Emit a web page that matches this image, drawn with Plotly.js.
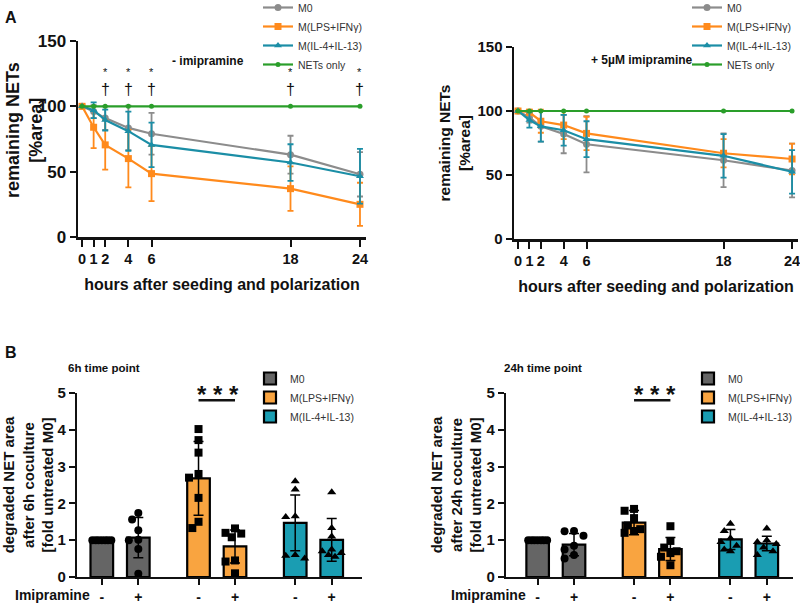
<!DOCTYPE html>
<html>
<head>
<meta charset="utf-8">
<script src="https://cdn.plot.ly/plotly-3.0.1.min.js"></script>
<style>html,body{margin:0;padding:0;background:#fff;}</style>
</head>
<body>
<div id="chart" style="width:800px;height:605px;"></div>
<script>
// ---------- Panel A data ----------
const hours = [0, 1, 2, 4, 6, 18, 24];
const seriesNames = ["M0", "M(LPS+IFNγ)", "M(IL-4+IL-13)", "NETs only"];

// - imipramine
const m0Minus     = [100, 96, 91, 83.5, 79, 63, 48];
const m0MinusSd   = [0, 5, 9, 17, 16, 14.5, 17];
const lpsMinus    = [100, 84, 70.5, 60, 48.5, 37, 25];
const lpsMinusSd  = [0, 16, 19, 22, 21, 17, 16.5];
const il4Minus    = [100, 97, 89.5, 81, 70.5, 57, 46.5];
const il4MinusSd  = [0, 6, 8, 15, 17, 14, 21];
const netsMinus   = [100, 100, 100, 100, 100, 100, 100];

// + 5 µM imipramine
const m0Plus      = [100, 95, 88, 82, 74, 61.5, 53.5];
const m0PlusSd    = [0, 4, 12, 15, 22, 21, 21];
const lpsPlus     = [100, 99, 92, 89, 82.5, 67, 62.5];
const lpsPlusSd   = [0, 2, 9, 11, 13, 11, 12];
const il4Plus     = [100, 93, 88, 85, 78, 65, 52.5];
const il4PlusSd   = [0, 6, 12, 12, 14, 17, 17];
const netsPlus    = [100, 100, 100, 100, 100, 100, 100];

const sigHours = [2, 4, 6, 18, 24];

// ---------- Panel B data ----------
const groupNames = ["M0", "M(LPS+IFNγ)", "M(IL-4+IL-13)"];
const imiLabels = ["-", "+", "-", "+", "-", "+"];

// 6h
const mean6h = [1.0, 1.07, 2.68, 0.83, 1.47, 1.01];
const sd6h   = [0, 0.55, 1.0, 0.45, 0.76, 0.58];
const pts6h = [
  [1, 1, 1, 1, 1, 1, 1],
  [1.74, 1.56, 1.27, 1.01, 1.0, 0.76, 0.09],
  [4.02, 3.72, 3.38, 2.80, 2.70, 2.15, 1.50, 1.33],
  [1.32, 1.2, 1.18, 1.08, 0.45, 0.42, 0.1],
  [2.6, 2.38, 1.65, 1.63, 0.6, 0.58, 0.5],
  [2.3, 1.33, 1.1, 0.75, 0.7, 0.65, 0.6, 0.55]
];
// 24h
const mean24h = [1.0, 0.88, 1.48, 0.76, 1.02, 0.91];
const sd24h   = [0, 0.3, 0.33, 0.31, 0.27, 0.2];
const pts24h = [
  [1, 1, 1, 1, 1, 1, 1],
  [1.25, 1.24, 1.12, 0.85, 0.75, 0.6, 0.5],
  [1.85, 1.8, 1.6, 1.4, 1.3, 1.25, 1.2],
  [1.38, 0.98, 0.8, 0.7, 0.65, 0.55, 0.32],
  [1.45, 1.25, 1.05, 0.95, 0.85, 0.75, 0.7],
  [1.32, 1.0, 0.95, 0.9, 0.8, 0.7, 0.6]
];

// ---------- styling ----------
const FONT = "Liberation Sans, Arial, Helvetica, sans-serif";
const lineColors = ["#8c8c8c", "#ff8a1c", "#1b8ea6", "#2a9e2a"];
const lineSymbols = ["circle", "square", "triangle-up", "circle"];
const barColors = ["#656565", "#f9a440", "#1a9db2"];
const ptSymbols = ["circle", "square", "triangle-up"];
const barPos = [0, 1, 2.65, 3.65, 5.3, 6.3];

const H = 605, W = 800;
const py = p => (H - p) / H;
const px = p => p / W;

const traces = [];

function lineTraces(xa, ya, legendId, vals, sds) {
  vals.forEach((v, k) => {
    const t = {
      x: hours, y: v, type: "scatter", mode: "lines+markers",
      name: seriesNames[k], xaxis: xa, yaxis: ya, legend: legendId,
      line: {color: lineColors[k], width: 2.2},
      marker: {color: lineColors[k], symbol: lineSymbols[k], size: k === 3 ? 5 : 7},
      cliponaxis: false
    };
    if (sds[k]) {
      t.error_y = {type: "data", array: sds[k], visible: true, color: lineColors[k], thickness: 1.8, width: 3};
    }
    traces.push(t);
  });
}
lineTraces("x", "y", "legend", [m0Minus, lpsMinus, il4Minus, netsMinus], [m0MinusSd, lpsMinusSd, il4MinusSd, null]);
lineTraces("x2", "y2", "legend2", [m0Plus, lpsPlus, il4Plus, netsPlus], [m0PlusSd, lpsPlusSd, il4PlusSd, null]);

// deterministic beeswarm-like horizontal spread (layout only)
function spread(vals, yScale) {
  const order = vals.map((v, i) => i).sort((a, b) => vals[b] - vals[a]);
  const cands = [0, -0.17, 0.17, -0.26, 0.26, -0.09, 0.09];
  const placed = [];
  const off = new Array(vals.length).fill(0);
  order.forEach(i => {
    let best = 0, bestD = -1;
    for (const c of cands) {
      let d = Infinity;
      placed.forEach(p => {
        const dx = (c - p.o) * 36.5, dy = (vals[i] - p.v) * yScale;
        d = Math.min(d, Math.hypot(dx, dy));
      });
      if (d >= 8) { best = c; bestD = d; break; }
      if (d > bestD) { bestD = d; best = c; }
    }
    off[i] = best;
    placed.push({o: best, v: vals[i]});
  });
  return off;
}

function barPanel(xa, ya, legendId, means, sds, pts) {
  for (let g = 0; g < 3; g++) {
    const idx = [2 * g, 2 * g + 1];
    traces.push({
      type: "bar", x: idx.map(i => barPos[i]), y: idx.map(i => means[i]),
      name: groupNames[g], xaxis: xa, yaxis: ya, legend: legendId,
      width: 0.62,
      marker: {color: barColors[g], line: {color: "#000", width: 2.2}},
      error_y: {type: "data", array: idx.map(i => sds[i]), visible: true, color: "#000", thickness: 1.5, width: 5}
    });
  }
  for (let i = 0; i < 6; i++) {
    const g = Math.floor(i / 2);
    const off = spread(pts[i], 36.8);
    traces.push({
      type: "scatter", mode: "markers", showlegend: false, xaxis: xa, yaxis: ya,
      x: pts[i].map((v, j) => barPos[i] + off[j]), y: pts[i],
      marker: {color: "#000", symbol: ptSymbols[g], size: 8},
      cliponaxis: false, hoverinfo: "y"
    });
  }
}
barPanel("x3", "y3", "legend3", mean6h, sd6h, pts6h);
barPanel("x4", "y4", "legend4", mean24h, sd24h, pts24h);

// ---------- axes ----------
const tf = s => ({family: FONT, size: s, color: "#111", weight: "bold"});
function lineXAxis(domain) {
  return {
    domain: domain, range: [-0.35, 24.52], tickvals: hours, ticktext: hours.map(String),
    showline: true, linecolor: "#111", linewidth: 2.5, ticks: "outside", ticklen: 7, tickwidth: 2,
    tickcolor: "#111", showgrid: false, zeroline: false, tickfont: tf(14.5), ticklabeloverflow: "allow",
    title: {text: "<b>hours after seeding and polarization</b>", font: {family: FONT, size: 16, color: "#111"}, standoff: 13},
    fixedrange: true
  };
}
function lineYAxis(domain, anchor, tickSize, title, titleSize, standoff) {
  return {
    domain: domain, range: [0, 150], tickvals: [0, 50, 100, 150], anchor: anchor,
    showline: true, linecolor: "#111", linewidth: 2.5, ticks: "outside", ticklen: 6, tickwidth: 2,
    tickcolor: "#111", showgrid: false, zeroline: false, tickfont: tf(tickSize),
    title: {text: title, font: {family: FONT, size: titleSize, color: "#111"}, standoff: standoff},
    fixedrange: true
  };
}
function barXAxis(domain, range) {
  return {
    domain: domain, range: range, tickvals: barPos, ticktext: imiLabels,
    showline: true, linecolor: "#111", linewidth: 2.2, ticks: "outside", ticklen: 6, tickwidth: 2,
    tickcolor: "#111", showgrid: false, zeroline: false, tickfont: tf(14), fixedrange: true
  };
}
function barYAxis(domain, anchor, title, standoff) {
  return {
    domain: domain, range: [0, 5], dtick: 1, anchor: anchor,
    showline: true, linecolor: "#111", linewidth: 2.2, ticks: "outside", ticklen: 6, tickwidth: 2,
    tickcolor: "#111", showgrid: false, zeroline: false, tickfont: tf(15),
    title: {text: title, font: {family: FONT, size: 15, color: "#111"}, standoff: standoff},
    fixedrange: true
  };
}

const legendBase = {
  font: {family: FONT, size: 10.5, color: "#333"}, bgcolor: "rgba(0,0,0,0)",
  xanchor: "left", yanchor: "top", tracegroupgap: 0, itemclick: false, itemdoubleclick: false
};

const yTitleA = "<b>remaining NETs<br>[%area]</b>";

const layout = {
  width: W, height: H, autosize: false,
  margin: {l: 0, r: 0, t: 0, b: 0, autoexpand: false},
  paper_bgcolor: "#fff", plot_bgcolor: "rgba(0,0,0,0)",
  font: {family: FONT, color: "#111"},
  barmode: "overlay",
  xaxis: Object.assign(lineXAxis([px(78), px(366)]), {anchor: "y"}),
  yaxis: lineYAxis([py(237), py(41)], "x", 17, "", 18, 0),
  xaxis2: Object.assign(lineXAxis([px(514), px(798)]), {anchor: "y2"}),
  yaxis2: lineYAxis([py(239), py(47)], "x2", 15, yTitleA, 15.5, 3),
  xaxis3: Object.assign(barXAxis([px(77), px(362)], [-0.68, 7.13]), {anchor: "y3"}),
  yaxis3: barYAxis([py(577), py(393)], "x3", "<b>degraded NET area<br>after 6h coculture<br>[fold untreated M0]</b>", 6),
  xaxis4: Object.assign(barXAxis([px(506), px(793)], [-0.87, 7.02]), {anchor: "y4"}),
  yaxis4: barYAxis([py(577), py(393)], "x4", "<b>degraded NET area<br>after 24h coculture<br>[fold untreated M0]</b>", 1),
  legend:  Object.assign({}, legendBase, {x: px(258), y: py(-7)}),
  legend2: Object.assign({}, legendBase, {x: px(687), y: py(-7)}),
  legend3: Object.assign({}, legendBase, {x: px(250), y: py(364)}),
  legend4: Object.assign({}, legendBase, {x: px(688), y: py(364)}),
  showlegend: true,
  annotations: [],
  shapes: []
};

const ann = layout.annotations;
function txt(t, x, y, size, opts) {
  ann.push(Object.assign({text: t, x: x, y: y, xref: "paper", yref: "paper", showarrow: false,
    font: {family: FONT, size: size, color: "#111"}, xanchor: "center", yanchor: "middle"}, opts || {}));
}
// y-axis title of the top-left panel (placed as rotated text for exact position)
txt(yTitleA, px(25), py(130), 18, {textangle: -90});
txt("<b>A</b>", px(3), py(17), 16, {xanchor: "left"});
txt("<b>B</b>", px(3), py(353), 16, {xanchor: "left"});
ann.push({text: "<b>- imipramine</b>", x: 10.9, y: 134.7, xref: "x", yref: "y", showarrow: false,
  font: {family: FONT, size: 12, color: "#111"}});
ann.push({text: "<b>+ 5µM imipramine</b>", x: 10.9, y: 139.8, xref: "x2", yref: "y2", showarrow: false,
  font: {family: FONT, size: 12, color: "#111"}});
sigHours.forEach(h => {
  ann.push({text: "*", x: h, y: 126, xref: "x", yref: "y", showarrow: false, font: {family: FONT, size: 11, color: "#111"}});
  ann.push({text: "†", x: h, y: 113, xref: "x", yref: "y", showarrow: false, font: {family: FONT, size: 16, color: "#111"}});
});
txt("<b>6h time point</b>", px(104), py(368), 11.5);
txt("<b>24h time point</b>", px(543), py(368), 11.5);
txt("<b>* * *</b>", px(218), py(394), 24);
txt("<b>* * *</b>", px(655), py(394), 24);
txt("<b>Imipramine</b>", px(52), py(595), 14);
txt("<b>Imipramine</b>", px(488), py(595), 14);

layout.shapes.push({type: "line", xref: "x3", yref: "y3", x0: barPos[2], x1: barPos[3], y0: 4.8, y1: 4.8, line: {color: "#111", width: 2.5}});
layout.shapes.push({type: "line", xref: "x4", yref: "y4", x0: barPos[2], x1: barPos[3], y0: 4.8, y1: 4.8, line: {color: "#111", width: 2.5}});

Plotly.newPlot("chart", traces, layout, {displayModeBar: false, staticPlot: true});
</script>
</body>
</html>
